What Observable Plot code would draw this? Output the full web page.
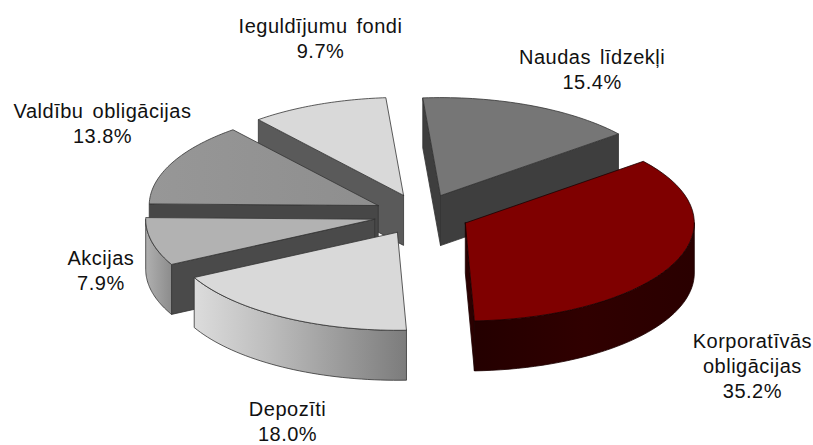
<!DOCTYPE html>
<html><head><meta charset="utf-8">
<style>html,body{margin:0;padding:0;background:#fff}svg{display:block}</style>
<script src="https://cdn.jsdelivr.net/npm/d3@7"></script>
<script src="https://cdn.jsdelivr.net/npm/@observablehq/plot@0.6"></script>
</head><body><div id="chart"></div>
<script>
// Data, clockwise from the start angle
const names = ["Korporatīvās\nobligācijas","Depozīti","Akcijas","Valdību obligācijas","Ieguldījumu fondi","Naudas līdzekļi"];
const shares = [35.2,18.0,7.9,13.8,9.7,15.4];
// Styles
const topFill = ["#7f0000","#d9d9d9","#b2b2b2","url(#valTop)","#d9d9d9","#767676"];
const cutFill = ["#2b0000","#bbbbbb","#4a4a4a","#474747","#5a5a5a","#3e3e3e"];
const rimFill = ["url(#korRim)","url(#depRim)","url(#akcRim)","#888888","#aaaaaa","#555555"];
const edge    = ["#1c0000","#333333","#333333","#333333","#333333","#333333"];
// Label anchors in pie units (1 = one radius)
const labelX = [1.445,-0.585,-1.4,-1.393,-0.441,0.745];
const labelY = [-1.531,-2.105,-0.561,0.939,1.806,1.49];
// Pie layout
const startAngle = 39.0, explode = 0.21, depth = 0.51;
const W = 813, H = 445, cx = 421, cy = 214, rx = 229, ry = 98;
const paintOrder = [4,5,3,2,1,0];

const rad = d => d * Math.PI / 180;
const total = d3.sum(shares);
let acc = startAngle;
const slices = shares.map((s,i) => {
  const a0 = acc, a1 = acc - s / total * 360; acc = a1;
  const mid = (a0 + a1) / 2;
  return {i, a0, a1, ox: explode * Math.cos(rad(mid)), oy: explode * Math.sin(rad(mid))};
});
const pt = (s,a,drop=0) => ({x: s.ox + Math.cos(rad(a)), y: s.oy + Math.sin(rad(a)) - drop});
const apex = (s,drop=0) => ({x: s.ox, y: s.oy - drop});
const arc = (s,from,to,drop=0) => d3.range(0,41).map(k => pt(s, from + (to-from)*k/40, drop));
const face = (pts,fill,stroke) => Plot.line([...pts,pts[0]],{x:"x",y:"y",fill,stroke,strokeWidth:0.8,strokeLinejoin:"round"});

function sliceMarks(s){
  const m = [], {a0,a1,i} = s, st = edge[i];
  const cut = a => face([apex(s),pt(s,a),pt(s,a,depth),apex(s,depth)],cutFill[i],st);
  if (Math.cos(rad(a0)) < 0) m.push(cut(a0));
  if (Math.cos(rad(a1)) > 0) m.push(cut(a1));
  // front part of the rim: angles whose sine is negative
  const hi = Math.min(a0, a0 > 0 ? 0 : a0), lo = Math.max(a1, -180);
  if (hi > lo) m.push(face([...arc(s,hi,lo),...arc(s,lo,hi,depth)],rimFill[i],st));
  m.push(face([apex(s),...arc(s,a0,a1)],topFill[i],st));
  return m;
}
const stops = (id,list) => {
  const g = d3.create("svg:linearGradient").attr("id",id);
  list.forEach(([o,c]) => g.append("stop").attr("offset",o).attr("stop-color",c));
  return g.node();
};
const defs = () => {
  const d = d3.create("svg:defs").node();
  d.append(stops("depRim",[[0,"#dcdcdc"],[0.35,"#bdbdbd"],[0.7,"#9a9a9a"],[1,"#7c7c7c"]]));
  d.append(stops("akcRim",[[0,"#b0b0b0"],[1,"#8c8c8c"]]));
  d.append(stops("korRim",[[0,"#240000"],[0.5,"#300000"],[1,"#2a0000"]]));
  d.append(stops("valTop",[[0,"#979797"],[1,"#8e8e8e"]]));
  return d;
};

const plot = Plot.plot({
  width: W, height: H, margin: 0,
  style: {background:"#fff", letterSpacing:"0.5px", wordSpacing:"3px"},
  x: {axis:null, domain:[-cx/rx,(W-cx)/rx], range:[0,W]},
  y: {axis:null, domain:[(cy-H)/ry,cy/ry], range:[H,0]},
  marks: [
    defs,
    ...paintOrder.flatMap(i => sliceMarks(slices[i])),
    Plot.text(names.map((n,i)=>({t:`${n}\n${shares[i].toFixed(1)}%`,x:labelX[i],y:labelY[i]})),{
      x:"x",y:"y",text:"t",fill:"#111",fontSize:20,lineHeight:1.25,
      fontFamily:"'Liberation Sans',Arial,sans-serif",textAnchor:"middle",lineAnchor:"middle"
    })
  ]
});
document.getElementById("chart").append(plot);
</script></body></html>
